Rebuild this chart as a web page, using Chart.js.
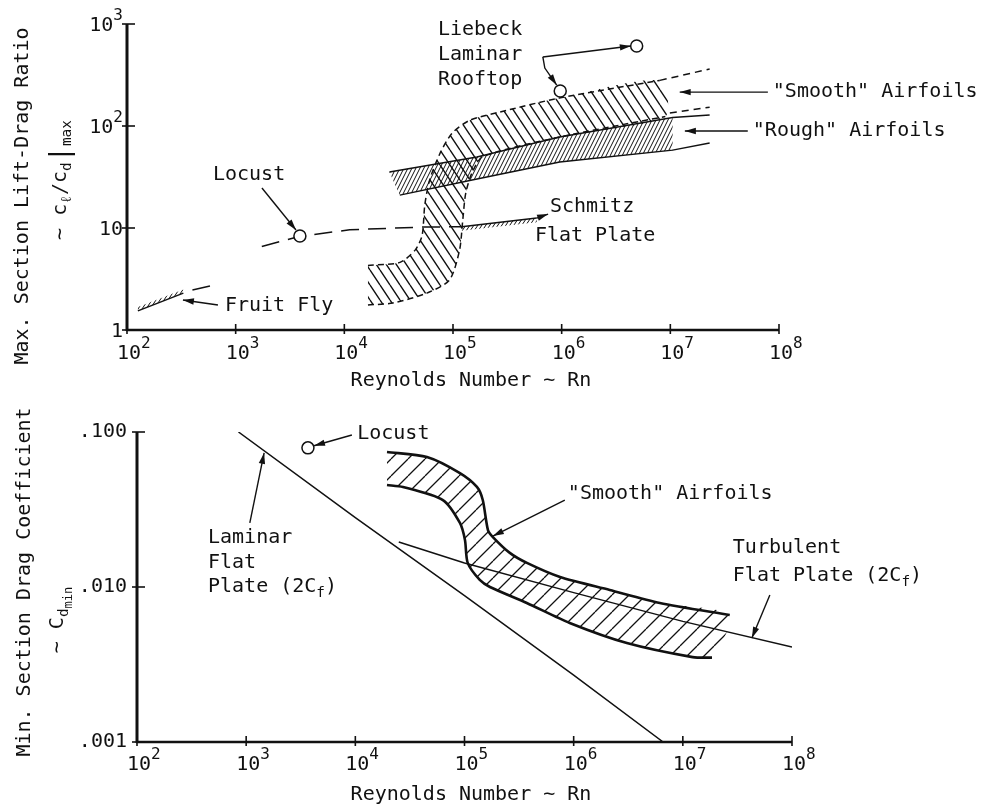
<!DOCTYPE html>
<html><head><meta charset="utf-8">
<script src="https://cdn.jsdelivr.net/npm/chart.js@4.4.0/dist/chart.umd.min.js"></script>
<style>
html,body{margin:0;padding:0;background:#fff;}
#wrap{position:relative;width:990px;height:810px;overflow:hidden;}
canvas{position:absolute;left:0;top:0;}
</style></head><body>
<div id="wrap"><canvas id="cTop" width="990" height="810"></canvas><canvas id="cBot" width="990" height="810"></canvas></div>
<script>
// ================= DATA =================
// shared Reynolds-number axis
const reTicks   = [1e2, 1e3, 1e4, 1e5, 1e6, 1e7, 1e8];
const reTickExp = ['2', '3', '4', '5', '6', '7', '8'];

// ---- top chart: max section L/D ----
const ldTicks      = [1, 10, 100, 1000];
const ldTickBase   = ['1', '10', '10', '10'];
const ldTickExp    = ['', '', '2', '3'];

const smoothUpRe  = [1.65e4, 3.25e4, 4.5e4, 5.2e4, 5.5e4, 6.1e4, 7.6e4, 9.8e4, 1.43e5, 2.7e5, 9.5e5, 8.0e6];
const smoothUpLD  = [4.3, 4.6, 6.1, 8.5, 16.8, 29.6, 54, 85, 114, 137, 188, 280];
const smoothLoRe  = [1.65e4, 2.8e4, 5.75e4, 9.3e4, 1.15e5, 1.23e5, 1.31e5, 1.5e5, 1.88e5, 9.6e5, 9.0e6];
const smoothLoLD  = [1.76, 1.84, 2.3, 3.1, 6.1, 12, 22, 35, 50, 78, 124];
const smoothExtUpRe = [8.0e6, 2.3e7];
const smoothExtUpLD = [280, 362];
const smoothExtLoRe = [9.9e6, 2.3e7];
const smoothExtLoLD = [134, 153];

const roughTopRe = [2.6e4, 1.66e5, 9.6e5, 1.05e7, 2.3e7];
const roughTopLD = [35.4, 49.7, 78, 121, 128];
const roughBotRe = [3.24e4, 1.5e5, 9.6e5, 1.05e7, 2.3e7];
const roughBotLD = [21, 29.5, 44.4, 58, 68];

const locustLineRe = [1.74e3, 3.9e3, 1.12e4, 4.96e4, 1.2e5];
const locustLineLD = [6.6, 8.3, 9.6, 10.2, 10.3];
const schmitzRe    = [1.2e5, 5.9e5];
const schmitzLD    = [10.3, 12.5];
const schmitzLowLD = [9.4, 11.4];

const fruitRe     = [1.26e2, 3.3e2];
const fruitLD     = [1.54, 2.3];
const fruitHiLD   = [1.68, 2.5];
const fruitDashRe = [4.0e2, 5.8e2];
const fruitDashLD = [2.47, 2.7];

const topPointRe = [3.9e3, 9.7e5, 4.9e6];     // Locust, Liebeck (two)
const topPointLD = [8.35, 220, 608];

// ---- bottom chart: min section drag coefficient ----
const cdTicks      = [0.001, 0.01, 0.1];
const cdTickLabels = ['.001', '.010', '.100'];

const bandUpRe = [1.95e4, 4.53e4, 9.08e4, 1.3e5, 1.47e5, 1.64e5, 1.82e5, 2.6e5, 3.73e5, 7.5e5, 2.14e6, 6.16e6, 2.69e7];
const bandUpCd = [0.0743, 0.069, 0.0543, 0.0442, 0.0364, 0.0233, 0.021, 0.0166, 0.0143, 0.0116, 0.00957, 0.00789, 0.00659];
const bandLoRe = [1.95e4, 2.73e4, 6.34e4, 9.08e4, 1.01e5, 1.07e5, 1.38e5, 1.71e5, 3.72e5, 9.2e5, 3.07e6, 1.23e7, 1.85e7];
const bandLoCd = [0.0455, 0.0442, 0.0364, 0.0259, 0.0201, 0.0143, 0.0111, 0.0100, 0.00789, 0.00586, 0.00435, 0.00353, 0.0035];

const laminarRe = [850, 1e4, 1e5, 1e6, 6.6e6];
const laminarCd = [0.100, 0.028, 0.0088, 0.0027, 0.001];
const turbRe    = [2.5e4, 1e5, 1e6, 1e7, 1e8];
const turbCd    = [0.0195, 0.0143, 0.0092, 0.0060, 0.0041];

const botPointRe = [3.68e3];   // Locust
const botPointCd = [0.079];

// ---- annotations (anchored in data units) ----
const topTexts = [
  {re: 618,    v: 33.1, dy: 0,  lines: [[['Locust', 0]]]},
  {re: 797,    v: 1.72, dy: 0,  lines: [[['Fruit Fly', 0]]]},
  {re: 7.79e5, v: 16.06, dy: 0, lines: [[['Schmitz', 0]]]},
  {re: 5.67e5, v: 8.35, dy: 0,  lines: [[['Flat Plate', 0]]]},
  {re: 7.26e4, v: 873, dy: 25,  lines: [[['Liebeck', 0]], [['Laminar', 0]], [['Rooftop', 0]]]},
  {re: 8.77e7, v: 215, dy: 0,   lines: [[['"Smooth" Airfoils', 0]]]},
  {re: 5.74e7, v: 89.3, dy: 0,  lines: [[['"Rough" Airfoils', 0]]]}
];
const topArrows = [
  [[1.745e3, 24.7], [3.59e3, 9.56]],
  [[687, 1.76], [327, 1.97]],
  [[5.9e5, 12.5], [7.5e5, 13.7]],
  [[6.71e5, 475], [7.0e5, 370], [9.0e5, 252]],
  [[6.71e5, 475], [4.33e6, 609]],
  [[7.9e7, 215], [1.22e7, 215]],
  [[5.16e7, 89.3], [1.36e7, 89.3]]
];
const botTexts = [
  {re: 1.04e4, v: 0.097, dy: 0,    lines: [[['Locust', 0]]]},
  {re: 447,    v: 0.0207, dy: 24.5, lines: [[['Laminar', 0]], [['Flat', 0]], [['Plate (2C', 0], ['f', 1], [')', 0]]]},
  {re: 8.85e5, v: 0.0398, dy: 0,    lines: [[['"Smooth" Airfoils', 0]]]},
  {re: 2.87e7, v: 0.01786, dy: 28,  lines: [[['Turbulent', 0]], [['Flat Plate (2C', 0], ['f', 1], [')', 0]]]}
];
const botArrows = [
  [[9.3e3, 0.0957], [4.18e3, 0.0815]],
  [[1.08e3, 0.0259], [1.46e3, 0.0733]],
  [[8.3e5, 0.0364], [1.82e5, 0.0213]],
  [[6.27e7, 0.00887], [4.29e7, 0.00469]]
];

// ================= HELPERS =================
const INK = '#111';
const FONT = '"DejaVu Sans Mono", "Liberation Mono", monospace';
const fnt = s => `${s}px ${FONT}`;
const zip = (xs, ys) => xs.map((x, i) => ({x, y: ys[i]}));
const poly = (ux, uy, lx, ly) => zip(ux, uy).concat(zip(lx, ly).reverse());

function hatch(w, h, dir, lw) {
  const c = document.createElement('canvas'); c.width = w; c.height = h;
  const g = c.getContext('2d');
  g.strokeStyle = INK; g.lineWidth = lw;
  g.beginPath();
  for (const o of [-w, 0, w]) {
    if (dir === '/') { g.moveTo(o, h); g.lineTo(o + w, 0); }
    else { g.moveTo(o, 0); g.lineTo(o + w, h); }
  }
  g.stroke();
  return g.createPattern(c, 'repeat');
}

const SPEC = {'0': [1, 0], '1': [0.72, 0.3], '2': [0.6, 0.55], '-1': [0.8, -0.5], '3': [1.35, 0]};
function segWidth(ctx, segs, size) {
  let w = 0;
  for (const [t, l] of segs) { ctx.font = fnt(size * SPEC[l][0]); w += ctx.measureText(t).width; }
  return w;
}
function drawRich(ctx, segs, x, y, size, align) {
  const w = segWidth(ctx, segs, size);
  let cx = align === 'center' ? x - w / 2 : align === 'right' ? x - w : x;
  ctx.textAlign = 'left'; ctx.textBaseline = 'middle';
  for (const [t, l] of segs) {
    const s = SPEC[l];
    ctx.font = fnt(size * s[0]);
    ctx.fillText(t, cx, y + size * s[1]);
    cx += ctx.measureText(t).width;
  }
}
function arrowPath(ctx, pts) {
  ctx.beginPath();
  ctx.moveTo(pts[0][0], pts[0][1]);
  for (let i = 1; i < pts.length; i++) ctx.lineTo(pts[i][0], pts[i][1]);
  ctx.stroke();
  const [x1, y1] = pts[pts.length - 2], [x2, y2] = pts[pts.length - 1];
  const a = Math.atan2(y2 - y1, x2 - x1), L = 11, W = 3.2;
  ctx.beginPath();
  ctx.moveTo(x2, y2);
  ctx.lineTo(x2 - L * Math.cos(a) + W * Math.sin(a), y2 - L * Math.sin(a) - W * Math.cos(a));
  ctx.lineTo(x2 - L * Math.cos(a) - W * Math.sin(a), y2 - L * Math.sin(a) + W * Math.cos(a));
  ctx.closePath(); ctx.fill();
}

function decor(cfg) {
  return {
    id: 'decor' + cfg.name,
    afterDraw(chart) {
      const ctx = chart.ctx, xs = chart.scales.x, ys = chart.scales.y, a = chart.chartArea;
      const X = v => xs.getPixelForValue(v), Y = v => ys.getPixelForValue(v);
      ctx.save();
      ctx.strokeStyle = INK; ctx.fillStyle = INK; ctx.lineCap = 'butt';
      // axes
      ctx.lineWidth = 3;
      ctx.beginPath(); ctx.moveTo(a.left, a.top); ctx.lineTo(a.left, a.bottom + 1); ctx.stroke();
      ctx.lineWidth = 2.5;
      ctx.beginPath(); ctx.moveTo(a.left - 1, a.bottom); ctx.lineTo(a.right, a.bottom); ctx.stroke();
      // tick marks
      ctx.lineWidth = 1.6;
      for (const t of reTicks) { const x = X(t); ctx.beginPath(); ctx.moveTo(x, a.bottom - 6); ctx.lineTo(x, a.bottom + 4); ctx.stroke(); }
      for (const t of cfg.yTicks) { const y = Y(t); ctx.beginPath(); ctx.moveTo(a.left - 5, y); ctx.lineTo(a.left + 8, y); ctx.stroke(); }
      // x tick labels
      ctx.font = fnt(20);
      const w10 = ctx.measureText('10').width;
      reTicks.forEach((t, i) => drawRich(ctx, [['10', 0], [reTickExp[i], -1]], X(t) - w10 / 2 + 2, a.bottom + cfg.xLabDy, 20, 'left'));
      // y tick labels
      cfg.yTicks.forEach((t, i) => drawRich(ctx, cfg.yLabel(i), a.left - cfg.yLabDx, Y(t) + cfg.yLabDyy, 20, 'right'));
      // axis titles
      drawRich(ctx, [['Reynolds Number ~ Rn', 0]], cfg.xTitleX, a.bottom + cfg.xTitleDy, 20, 'center');
      ctx.save();
      ctx.translate(a.left - cfg.yT1dx, cfg.yT1y); ctx.rotate(-Math.PI / 2);
      drawRich(ctx, cfg.yTitle1, 0, 0, 20, 'center');
      ctx.restore();
      ctx.save();
      ctx.translate(a.left - cfg.yT2dx, cfg.yT2y); ctx.rotate(-Math.PI / 2);
      drawRich(ctx, cfg.yTitle2, 0, 0, 20, 'center');
      ctx.restore();
      // annotations
      for (const n of cfg.texts) {
        n.lines.forEach((segs, i) => drawRich(ctx, segs, X(n.re), Y(n.v) + i * n.dy, 20, 'left'));
      }
      ctx.lineWidth = 1.4;
      for (const ar of cfg.arrows) arrowPath(ctx, ar.map(p => [X(p[0]), Y(p[1])]));
      ctx.restore();
    }
  };
}

const baseOpts = (pad, ymin, ymax) => ({
  responsive: false, animation: false, events: [],
  layout: {padding: pad},
  scales: {
    x: {type: 'logarithmic', min: 1e2, max: 1e8, display: false},
    y: {type: 'logarithmic', min: ymin, max: ymax, display: false}
  },
  plugins: {legend: {display: false}, tooltip: {enabled: false}},
  elements: {point: {radius: 0}, line: {tension: 0}}
});
const L = (data, extra) => Object.assign({data, showLine: true, fill: false, borderColor: INK, borderWidth: 1.5, pointRadius: 0}, extra || {});

// ================= TOP CHART =================
const patSmooth = hatch(10, 15, '\\', 1.4);
const patRough = hatch(4, 8, '/', 1);
const patFine = hatch(4, 6, '/', 1);

new Chart(document.getElementById('cTop'), {
  type: 'scatter',
  data: {datasets: [
    L(zip(topPointRe, topPointLD), {showLine: false, pointRadius: 6, pointBackgroundColor: '#fff', pointBorderColor: INK, pointBorderWidth: 1.5}),
    L(zip(locustLineRe, locustLineLD), {borderDash: [18, 9]}),
    L(zip(schmitzRe, schmitzLD)),
    L(zip(fruitRe, fruitLD)),
    L(zip(fruitDashRe, fruitDashLD)),
    L(zip(smoothUpRe, smoothUpLD), {borderDash: [6, 4], tension: 0.25}),
    L(zip(smoothLoRe, smoothLoLD), {borderDash: [6, 4], tension: 0.25}),
    L(zip(smoothExtUpRe, smoothExtUpLD), {borderDash: [7, 5]}),
    L(zip(smoothExtLoRe, smoothExtLoLD), {borderDash: [7, 5]}),
    L(zip(roughTopRe, roughTopLD)),
    L(zip(roughBotRe, roughBotLD)),
    L(poly(schmitzRe, schmitzLD, schmitzRe, schmitzLowLD), {fill: 'shape', backgroundColor: patFine, borderWidth: 0}),
    L(poly(fruitRe, fruitHiLD, fruitRe, fruitLD), {fill: 'shape', backgroundColor: patFine, borderWidth: 0}),
    L(poly(roughTopRe.slice(0, 4), roughTopLD.slice(0, 4), roughBotRe.slice(0, 4), roughBotLD.slice(0, 4)), {fill: 'shape', backgroundColor: patRough, borderWidth: 0}),
    L(poly(smoothUpRe, smoothUpLD, smoothLoRe, smoothLoLD), {fill: 'shape', backgroundColor: patSmooth, borderWidth: 0, tension: 0.25})
  ]},
  options: baseOpts({left: 127, top: 24, right: 990 - 779, bottom: 810 - 330}, 1, 1000),
  plugins: [decor({
    name: 'T', yTicks: ldTicks,
    yLabel: i => [[ldTickBase[i], 0], [ldTickExp[i], -1]],
    xLabDy: 24, yLabDx: 4, yLabDyy: 2,
    xTitleX: 471, xTitleDy: 51,
    yT1dx: 104, yT1y: 196, yT2dx: 66, yT2y: 180,
    yTitle1: [['Max. Section Lift-Drag Ratio', 0]],
    yTitle2: [['~ c', 0], ['ℓ', 1], ['/c', 0], ['d', 1], ['|', 3], ['max', 1]],
    texts: topTexts, arrows: topArrows
  })]
});

// ================= BOTTOM CHART =================
const patBand = hatch(17, 17, '/', 1.3);

new Chart(document.getElementById('cBot'), {
  type: 'scatter',
  data: {datasets: [
    L(zip(botPointRe, botPointCd), {showLine: false, pointRadius: 6, pointBackgroundColor: '#fff', pointBorderColor: INK, pointBorderWidth: 1.5}),
    L(zip(laminarRe, laminarCd)),
    L(zip(turbRe, turbCd)),
    L(zip(bandUpRe, bandUpCd), {borderWidth: 2.6, tension: 0.25}),
    L(zip(bandLoRe, bandLoCd), {borderWidth: 2.6, tension: 0.25}),
    L(poly(bandUpRe, bandUpCd, bandLoRe, bandLoCd), {fill: 'shape', backgroundColor: patBand, borderWidth: 0, tension: 0.25})
  ]},
  options: baseOpts({left: 137, top: 432, right: 990 - 792, bottom: 810 - 742}, 0.001, 0.1),
  plugins: [decor({
    name: 'B', yTicks: cdTicks,
    yLabel: i => [[cdTickLabels[i], 0]],
    xLabDy: 23, yLabDx: 10, yLabDyy: 0,
    xTitleX: 471, xTitleDy: 53,
    yT1dx: 112, yT1y: 582, yT2dx: 79, yT2y: 620,
    yTitle1: [['Min. Section Drag Coefficient', 0]],
    yTitle2: [['~ C', 0], ['d', 1], ['min', 2]],
    texts: botTexts, arrows: botArrows
  })]
});
</script>
</body></html>
